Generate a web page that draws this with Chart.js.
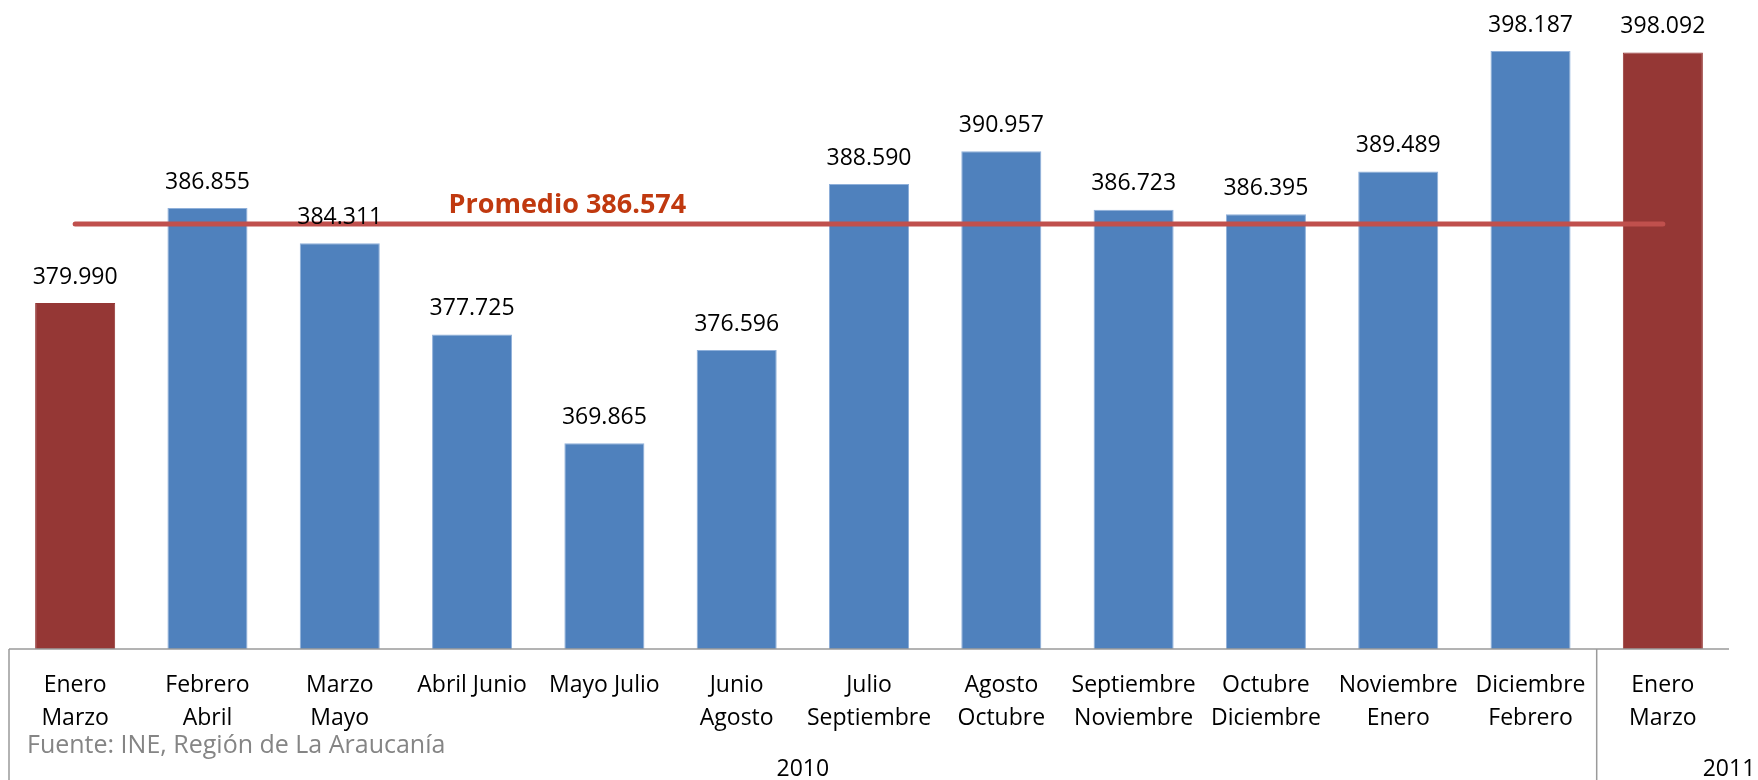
<!DOCTYPE html>
<html>
<head>
<meta charset="utf-8">
<script src="https://cdn.jsdelivr.net/npm/chart.js@4/dist/chart.umd.min.js"></script>
<style>
  html, body { margin: 0; padding: 0; background: #fff; }
  #wrap { width: 1758px; height: 780px; }
</style>
</head>
<body>
<div id="wrap"><canvas id="chart" width="1758" height="780"></canvas></div>
<script>
// trimestres moviles
const categorias = [
  ['Enero', 'Marzo'], ['Febrero', 'Abril'], ['Marzo', 'Mayo'], ['Abril Junio'],
  ['Mayo Julio'], ['Junio', 'Agosto'], ['Julio', 'Septiembre'], ['Agosto', 'Octubre'],
  ['Septiembre', 'Noviembre'], ['Octubre', 'Diciembre'], ['Noviembre', 'Enero'],
  ['Diciembre', 'Febrero'], ['Enero', 'Marzo']
];
const ocupados = [379.990, 386.855, 384.311, 377.725, 369.865, 376.596, 388.590,
  390.957, 386.723, 386.395, 389.489, 398.187, 398.092];
const anios = ['2010', '2010', '2010', '2010', '2010', '2010', '2010',
  '2010', '2010', '2010', '2010', '2010', '2011'];
const promedioTexto = 'Promedio 386.574';
// nivel donde aparece la linea en el grafico original
const promedioLinea = [385.7, 385.7, 385.7, 385.7, 385.7, 385.7, 385.7,
  385.7, 385.7, 385.7, 385.7, 385.7, 385.7];
const fuente = 'Fuente: INE, Región de La Araucanía';

const AZUL = '#4f81bd';
const ROJO = '#953735';
const FONT = '"Open Sans", sans-serif';

const extras = {
  id: 'extras',
  afterDatasetsDraw(chart) {
    const ctx = chart.ctx;
    const x = chart.scales.x, y = chart.scales.y;
    const area = chart.chartArea;
    const meta = chart.getDatasetMeta(1);

    // valores sobre las barras
    ctx.save();
    ctx.font = '23px ' + FONT;
    ctx.fillStyle = '#000';
    ctx.textAlign = 'center';
    ctx.textBaseline = 'middle';
    meta.data.forEach((bar, i) => {
      ctx.fillText(ocupados[i].toFixed(3), bar.x, bar.y - 26);
    });

    // etiqueta del promedio
    ctx.font = 'bold 27px ' + FONT;
    ctx.fillStyle = '#c0390f';
    ctx.fillText(promedioTexto, x.getPixelForValue(3.72), y.getPixelForValue(promedioLinea[0]) - 19);

    // eje y separadores
    ctx.strokeStyle = '#9a9a9a';
    ctx.lineWidth = 1.5;
    ctx.beginPath();
    ctx.moveTo(area.left, area.bottom);
    ctx.lineTo(area.right, area.bottom);
    ctx.moveTo(area.left, area.bottom);
    ctx.lineTo(area.left, chart.height);
    const corte = anios.indexOf('2011');
    const xs = (x.getPixelForValue(corte - 1) + x.getPixelForValue(corte)) / 2;
    ctx.moveTo(xs, area.bottom);
    ctx.lineTo(xs, chart.height);
    ctx.stroke();

    // años
    ctx.font = '23px ' + FONT;
    ctx.fillStyle = '#000';
    const x2010 = (area.left + xs) / 2;
    ctx.fillText('2010', x2010, 769);
    ctx.fillText('2011', area.right, 769);

    // fuente
    ctx.font = '25px ' + FONT;
    ctx.fillStyle = '#858585';
    ctx.textAlign = 'left';
    ctx.fillText(fuente, area.left + 18, 746);
    ctx.restore();
  }
};

new Chart(document.getElementById('chart'), {
  data: {
    labels: categorias,
    datasets: [
      {
        type: 'line',
        data: promedioLinea,
        borderColor: '#c0504d',
        borderWidth: 5,
        borderCapStyle: 'round',
        pointRadius: 0,
        order: 0
      },
      {
        type: 'bar',
        data: ocupados,
        backgroundColor: c => (c.dataIndex === 0 || c.dataIndex === ocupados.length - 1) ? ROJO : AZUL,
        borderColor: c => (c.dataIndex === 0 || c.dataIndex === ocupados.length - 1) ? ROJO : '#8fb0da',
        borderWidth: 1,
        barPercentage: 0.605,
        categoryPercentage: 1,
        order: 1
      }
    ]
  },
  options: {
    responsive: false,
    animation: false,
    layout: { padding: { top: 26, left: 9, right: 29, bottom: 25 } },
    plugins: { legend: { display: false }, tooltip: { enabled: false } },
    scales: {
      x: {
        grid: { display: false, drawTicks: false },
        border: { display: false },
        ticks: {
          color: '#000',
          padding: 20,
          maxRotation: 0,
          autoSkip: false,
          font: { family: FONT, size: 23, lineHeight: '33px' }
        }
      },
      y: {
        display: false,
        min: 355,
        max: 400
      }
    }
  },
  plugins: [extras]
});
</script>
</body>
</html>
